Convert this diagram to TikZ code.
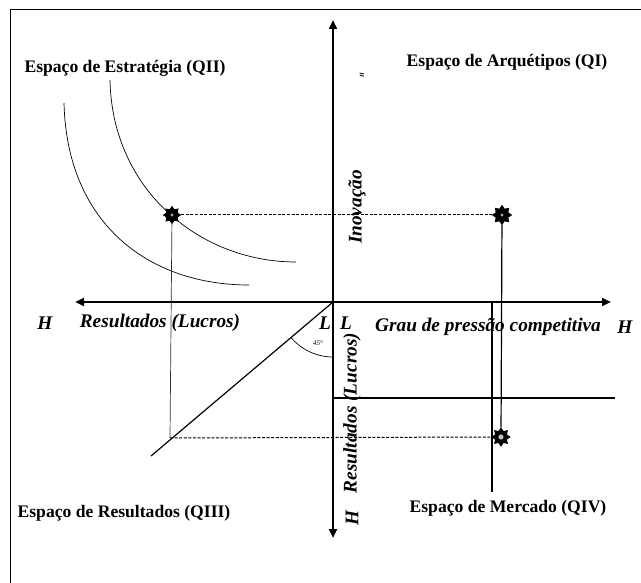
\documentclass[tikz,border=0pt]{standalone}
\usepackage{fontspec}
\setmainfont{Liberation Serif}
\usetikzlibrary{shapes.geometric,arrows.meta}
\tikzset{
  axisline/.style={line width=2.6pt,{Triangle[length=9pt,width=8pt]}-{Triangle[length=9pt,width=8pt]}},
  thinline/.style={line width=0.7pt},
  midline/.style={line width=1.2pt},
  dashline/.style={line width=1pt,dash pattern=on 3pt off 1.6pt},
  starmark/.style={star,star points=8,star point ratio=1.5,fill=black,draw=black,line width=0.8pt,inner sep=0pt,minimum size=18pt},
  title/.style={font=\fontsize{17.6}{20}\selectfont\bfseries,inner sep=0pt},
  axlabel/.style={font=\fontsize{19.3}{22}\selectfont\bfseries\itshape,inner sep=0pt},
}
\begin{document}
\begin{tikzpicture}[x=1pt,y=-1pt]
\useasboundingbox (0,0) rectangle (641,583);
% frame
\coordinate (fTL) at (10,10);
\coordinate (fTR) at (641,10);
\coordinate (fBL) at (10,583);
\draw[line width=1pt] (fTR) -- (fTL) -- (fBL);
% axes
\coordinate (O) at (333,302);
\coordinate (axL) at (75,302);
\coordinate (axR) at (611,302);
\coordinate (axT) at (333,20);
\coordinate (axB) at (333,538);
\draw[axisline] (axL) -- (axR);
\draw[axisline] (axT) -- (axB);
% curves
\coordinate (c1a) at (110,80);
\coordinate (c1b) at (296,262);
\coordinate (c2a) at (64,103);
\coordinate (c2b) at (249,285);
\draw[thinline] (c1a) .. controls (112,190) and (200,262) .. (c1b);
\draw[thinline] (c2a) .. controls (67,225) and (150,285) .. (c2b);
% stars
\node[starmark,minimum size=17pt] (s2) at (172,215) {};
\node[starmark,minimum size=19pt] (s1) at (502,215) {};
\node[starmark,minimum size=18pt] (s4) at (501,437) {};
\fill[black!35] (s2.center) circle (1.6pt);
\fill[black!35] (s1.center) circle (1.6pt);
\fill[black!25] (s4.center) circle (2.6pt);
% diagonal and links
\coordinate (d3) at (170,438);
\coordinate (dEnd) at (151,456);
\draw[midline] (O) -- (dEnd);
\draw[thinline,black!80] (s2) -- (d3);
\draw[dashline] (s2) -- (s1);
\draw[dashline] (d3) -- (s4);
\draw[midline] (s1) -- (s4);
\coordinate (v1) at (492,302);
\coordinate (v2) at (492,492);
\draw[midline] (v1) -- (v2);
\coordinate (h1) at (333,398);
\coordinate (h2) at (615,398);
\draw[midline] (h1) -- (h2);
% 45 degree arc
\draw[thinline] (O) ++(140:55) arc[start angle=140,end angle=90,radius=55];
\node[font=\fontsize{7}{8}\selectfont\itshape,inner sep=0pt] (ang) at (318,343) {45°};
% labels
\node[title] (qii) at (125,68) {Espaço de Estratégia (QII)};
\node[title] (qi) at (507,62) {Espaço de Arquétipos (QI)};
\node[title] (qiii) at (124,513) {Espaço de Resultados (QIII)};
\node[title] (qiv) at (508,508) {Espaço de Mercado (QIV)};
\node[axlabel] (hL) at (45,323) {H};
\node[axlabel] (resL) at (160,323) {Resultados (Lucros)};
\node[axlabel] (grau) at (488,327) {Grau de pressão competitiva};
\node[axlabel] (hR) at (625,327) {H};
\node[axlabel] (l1) at (325,323) {L};
\node[axlabel] (l2) at (346,323) {L};
\node[axlabel,rotate=90] (inov) at (357,207) {Inovação};
\node[font=\fontsize{6}{7}\selectfont\bfseries\itshape,rotate=90,inner sep=0pt] (hT) at (362,75) {H};
\node[axlabel,rotate=90] (resV) at (352,413) {Resultados (Lucros)};
\node[axlabel,rotate=90] (hB) at (352,518) {H};
\end{tikzpicture}
\end{document}
